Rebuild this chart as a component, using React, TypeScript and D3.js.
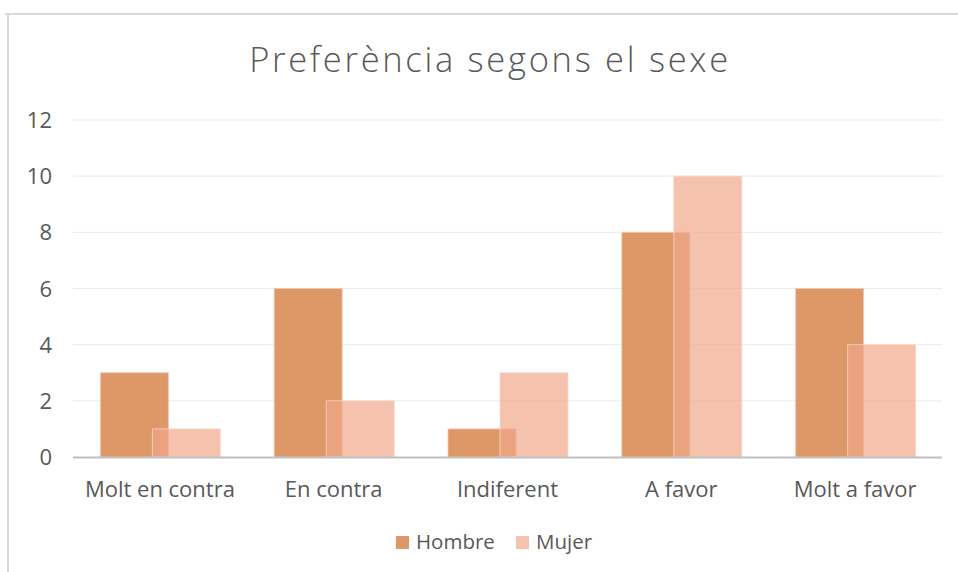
import React from "react";
import * as d3 from "d3";

const categories = ["Molt en contra", "En contra", "Indiferent", "A favor", "Molt a favor"];
const seriesNames = ["Hombre", "Mujer"];
const hombre = [3, 6, 1, 8, 6];
const mujer = [1, 2, 3, 10, 4];
const yTicks = [0, 2, 4, 6, 8, 10, 12];
const title = "Preferència segons el sexe";

const W = 958;
const H = 572;
const FONT = "'Open Sans', 'Noto Sans', sans-serif";

export default function App() {
  const left = 73, right = 942, top = 120, bottom = 457;
  const x = d3.scaleBand<string>().domain(categories).range([left, right]).padding(0);
  const y = d3.scaleLinear().domain([0, 12]).range([bottom, top]);
  const barW = 68;
  const off = 26;
  const colors = ["rgb(218,140,86)", "rgb(241,168,138)"];
  const opac = [0.9, 0.7];
  const strokes = ["rgb(240,200,175)", "rgb(250,215,200)"];
  const series = [hombre, mujer];

  return (
    <svg width={W} height={H} style={{ position: "absolute", left: 0, top: 0, background: "#fff" }}>
      <rect x={0} y={0} width={W} height={H} fill="#fff" />
      <line x1={5} x2={W} y1={14} y2={14} stroke="#D9D9D9" strokeWidth={2} />
      <line x1={8} x2={8} y1={13} y2={H} stroke="#D9D9D9" strokeWidth={2} />
      <text x={490} y={72} textAnchor="middle" fontFamily={FONT} fontWeight={300} fontSize={34.5} letterSpacing={2.7} fill="#595959">
        {title}
      </text>
      {yTicks.map((t) => (
        <g key={t}>
          {t !== 0 && (
            <line x1={left} x2={right} y1={y(t)} y2={y(t)} stroke="#EBEBEB" strokeWidth={1} />
          )}
          <text x={52} y={y(t) + 8} textAnchor="end" fontFamily={FONT} fontSize={22} fill="#595959">
            {t}
          </text>
        </g>
      ))}
      {series.map((vals, si) =>
        vals.map((v, i) => {
          const cx = (x(categories[i]) as number) + x.bandwidth() / 2 + (si === 0 ? -off : off);
          return (
            <rect
              key={si + "-" + i}
              x={cx - barW / 2 + 0.5}
              y={y(v)}
              width={barW}
              height={bottom - y(v)}
              fill={colors[si]}
              fillOpacity={opac[si]}
              stroke={strokes[si]}
              strokeWidth={1}
              strokeOpacity={0.8}
            />
          );
        })
      )}
      <line x1={left} x2={right} y1={bottom + 0.5} y2={bottom + 0.5} stroke="#BFBFBF" strokeWidth={2} />
      {categories.map((c) => (
        <text
          key={c}
          x={(x(c) as number) + x.bandwidth() / 2}
          y={497}
          textAnchor="middle"
          fontFamily={FONT}
          fontSize={22}
          fill="#595959"
        >
          {c}
        </text>
      ))}
      {seriesNames.map((s, si) => {
        const lx = si === 0 ? 396 : 516;
        return (
          <g key={s}>
            <rect x={lx} y={536} width={13} height={13} fill={colors[si]} fillOpacity={opac[si]} />
            <text x={lx + 20} y={549} fontFamily={FONT} fontSize={20.5} fill="#595959">
              {s}
            </text>
          </g>
        );
      })}
    </svg>
  );
}
